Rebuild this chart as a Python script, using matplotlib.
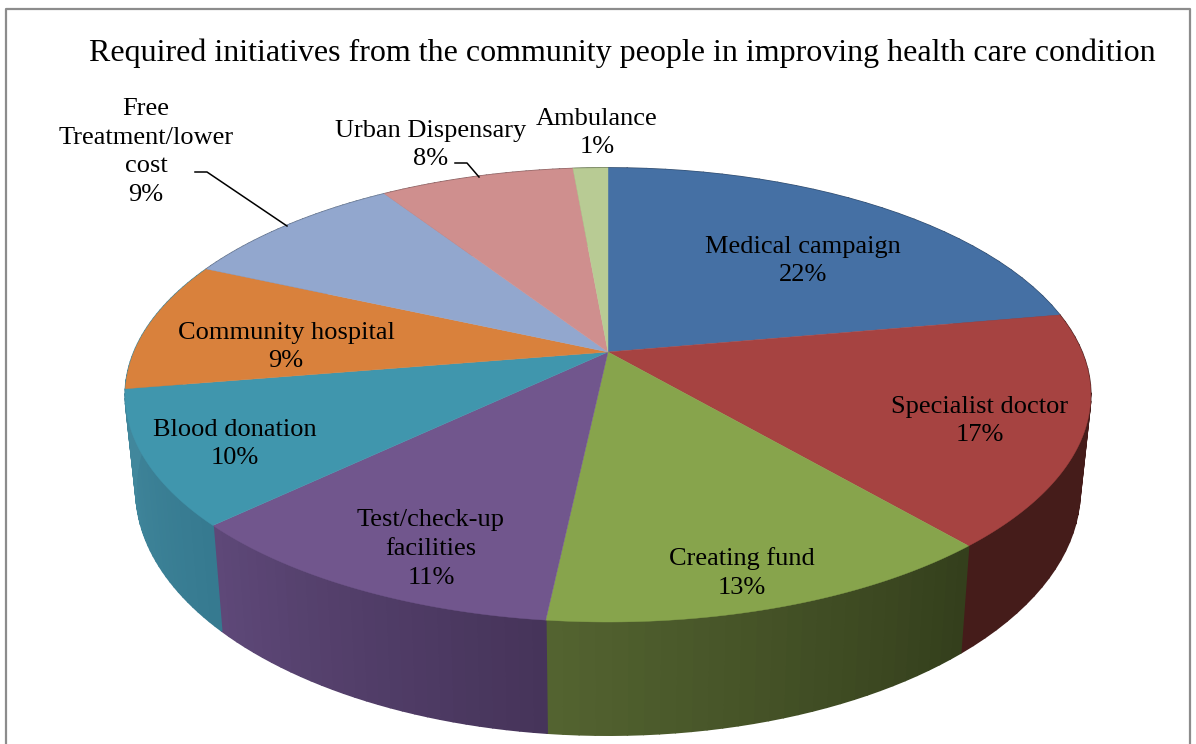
import numpy as np
import matplotlib
matplotlib.use("Agg")
import matplotlib.pyplot as plt
from matplotlib.collections import PolyCollection

plt.rcParams['font.family'] = ['Liberation Serif', 'DejaVu Serif']

title = "Required initiatives from the community people in improving health care condition"
names = ["Medical campaign", "Specialist doctor", "Creating fund", "Test/check-up\nfacilities",
         "Blood donation", "Community hospital", "Free\nTreatment/lower\ncost",
         "Urban Dispensary", "Ambulance"]
shares = [22.2, 16.51, 12.99, 11.2, 9.5, 9.3, 9.1, 7.8, 1.4]
top_colors = ["#4570A4", "#A64341", "#87A44C", "#71568D", "#4096AD",
              "#D9813C", "#92A7CE", "#CF8F8E", "#B8CB94"]
# wall colour at the left and right end of each slice
wall_left = ["#2B4565", "#451C1A", "#536330", "#5E4878", "#41879C",
             "#41879C", "#5A6A82", "#80595A", "#72805C"]
wall_right = ["#2B4565", "#451C1A", "#343F1C", "#46345A", "#367A90",
              "#41879C", "#5A6A82", "#80595A", "#72805C"]
label_xy = [(803, 261), (980, 421), (742, 573), (431, 549), (235, 444),
            (286, 347), (146, 152), (431, 145), (597, 133)]
leaders = [[(195, 172), (207, 172), (287, 226)],
           [(455, 163), (467, 163), (479, 177)]]


def top_map(t):
    # perspective view of the unit circle, t clockwise from 12 o'clock
    x, y = np.sin(t), np.cos(t)
    d = 1 + 0.1894 * y
    return 608 + 474 * x / d, (352 - 152.2 * y) / d


def bottom_map(t):
    u, v = top_map(t)
    return 608 + 0.978 * (u - 608), 63.4 + 1.08 * v


def mix(c1, c2, f):
    a = np.array(matplotlib.colors.to_rgb(c1))
    b = np.array(matplotlib.colors.to_rgb(c2))
    return tuple(a + (b - a) * f)


fig = plt.figure(figsize=(11.96, 7.44), dpi=100)
ax = fig.add_axes([0, 0, 1, 1])
ax.set_xlim(0, 1196)
ax.set_ylim(744, 0)
ax.axis('off')

edges = np.radians(np.cumsum([0] + shares) * 3.6)

# walls first, the top surface hides whatever faces away
for i in range(len(shares)):
    ts = np.linspace(edges[i], edges[i + 1], 30)
    polys, cols = [], []
    for j in range(len(ts) - 1):
        x1, y1 = top_map(ts[j])
        x2, y2 = top_map(ts[j + 1])
        x3, y3 = bottom_map(ts[j + 1])
        x4, y4 = bottom_map(ts[j])
        polys.append([(x1, y1), (x2, y2), (x3, y3), (x4, y4)])
        # t runs clockwise, so the front wall goes right to left
        cols.append(mix(wall_right[i], wall_left[i], j / (len(ts) - 2)))
    ax.add_collection(PolyCollection(polys, facecolors=cols, edgecolors=cols, linewidths=1.2))

for i in range(len(shares)):
    ts = np.linspace(edges[i], edges[i + 1], 120)
    x, y = top_map(ts)
    ax.fill(np.r_[608, x], np.r_[352, y], color=top_colors[i], lw=0.3)

# frame, cut off at the bottom of the picture
ax.plot([6, 6, 1190, 1190], [744, 9, 9, 744], color="#8c8c8c", lw=1.6)

ax.text(622, 53, title, ha='center', va='center', fontsize=23, color='black')
for name, share, (lx, ly) in zip(names, shares, label_xy):
    ax.text(lx, ly, f"{name}\n{share:.0f}%", ha='center', va='center',
            fontsize=19, color='black', linespacing=1.4)
for pts in leaders:
    ax.plot(*zip(*pts), color='black', lw=1.1)

fig.savefig("out.png", dpi=100)
